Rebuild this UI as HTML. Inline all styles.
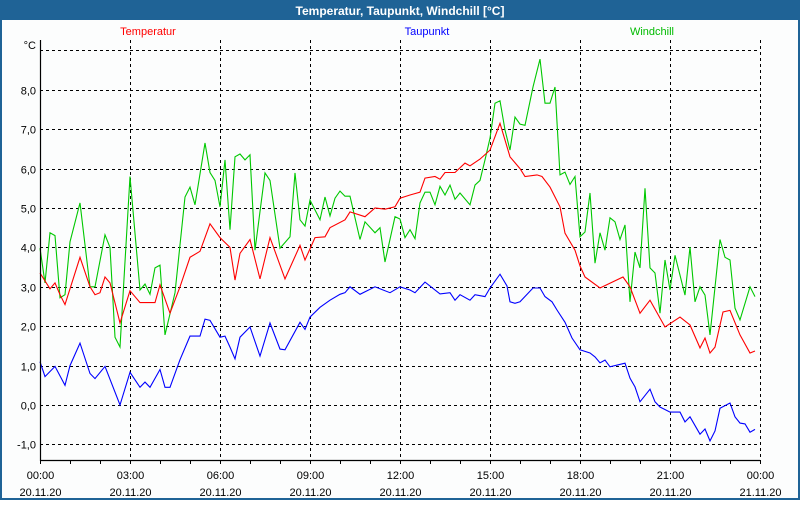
<!DOCTYPE html>
<html><head><meta charset="utf-8">
<style>
html,body{margin:0;padding:0;width:800px;height:500px;overflow:hidden;background:#fff;}
#frame{position:absolute;left:0;top:0;width:800px;height:500px;}
svg text{font-family:"Liberation Sans",sans-serif;}
</style></head>
<body>
<div id="frame">
<svg id="chart" width="800" height="500" viewBox="0 0 800 500">
  <rect x="0" y="0" width="800" height="500" fill="#1f6396"/>
  <rect x="2" y="20" width="796" height="478" fill="#fcfdfd"/>
  <text x="400" y="15" text-anchor="middle" font-size="12" font-weight="bold" fill="#fff">Temperatur, Taupunkt, Windchill [°C]</text>
  <text x="148" y="35" text-anchor="middle" font-size="11" fill="#ff0000">Temperatur</text>
  <text x="427" y="35" text-anchor="middle" font-size="11" fill="#0000ff">Taupunkt</text>
  <text x="652" y="35" text-anchor="middle" font-size="11" fill="#00bb00">Windchill</text>
  <text x="36" y="49" text-anchor="end" font-size="11" fill="#000">°C</text>
  <g id="grid"></g>
  <g id="series"></g>
  <g id="axes"></g>
</svg>
</div>
<script>
// ---- data ----
const yTicks = [-1, 0, 1, 2, 3, 4, 5, 6, 7, 8, 9];
const yTickLabels = ["-1,0", "0,0", "1,0", "2,0", "3,0", "4,0", "5,0", "6,0", "7,0", "8,0", ""];
const xTickHours = [0, 3, 6, 9, 12, 15, 18, 21, 24];
const xTickTimes = ["00:00", "03:00", "06:00", "09:00", "12:00", "15:00", "18:00", "21:00", "00:00"];
const xTickDates = ["20.11.20", "20.11.20", "20.11.20", "20.11.20", "20.11.20", "20.11.20", "20.11.20", "20.11.20", "21.11.20"];

const tempMinutes = [0,20,30,40,50,80,100,110,120,130,140,160,180,200,220,230,240,260,280,300,320,340,360,380,390,400,420,440,460,490,520,530,550,570,580,610,620,650,670,690,710,720,740,760,770,790,800,810,830,850,860,880,900,920,940,960,970,994,1004,1020,1040,1050,1070,1080,1090,1120,1166,1180,1200,1220,1250,1280,1300,1320,1330,1340,1350,1366,1380,1400,1420,1430];
const tempValues = [3.35,2.95,3.1,2.8,2.55,3.75,3.0,2.8,2.85,3.25,3.1,2.08,2.9,2.6,2.6,2.6,3.05,2.33,3.0,3.75,3.9,4.6,4.25,4.0,3.17,3.85,4.2,3.2,4.25,3.2,4.05,3.68,4.25,4.27,4.5,4.7,4.9,4.78,5.0,4.97,5.03,5.25,5.33,5.4,5.76,5.8,5.73,5.9,5.9,6.14,6.07,6.24,6.47,7.15,6.3,6.0,5.8,5.84,5.8,5.53,5.03,4.36,3.93,3.53,3.25,2.97,3.25,3.0,2.33,2.66,1.98,2.23,2.03,1.45,1.7,1.32,1.47,2.36,2.4,1.78,1.32,1.37];

const dewMinutes = [0,10,30,50,60,80,100,110,130,160,180,200,210,220,240,250,260,280,300,320,330,340,360,370,380,390,400,420,440,460,480,490,520,530,540,560,580,600,610,620,640,670,700,720,740,750,770,800,820,830,840,860,870,890,900,920,934,940,950,960,986,1000,1010,1024,1034,1050,1064,1080,1100,1110,1120,1130,1140,1170,1180,1190,1200,1220,1230,1240,1260,1280,1290,1300,1320,1330,1340,1350,1360,1380,1390,1400,1410,1420,1430];
const dewValues = [1.1,0.72,0.98,0.5,1.0,1.57,0.8,0.67,0.98,0.0,0.83,0.45,0.58,0.45,0.9,0.45,0.45,1.15,1.75,1.75,2.18,2.15,1.72,1.75,1.47,1.17,1.72,1.98,1.24,2.08,1.42,1.4,2.1,1.92,2.23,2.48,2.66,2.81,2.85,3.0,2.81,3.0,2.85,3.0,2.92,2.85,3.12,2.82,2.85,2.66,2.8,2.66,2.8,2.75,2.97,3.32,3.02,2.62,2.58,2.62,2.97,2.97,2.75,2.62,2.41,2.1,1.7,1.4,1.32,1.22,1.07,1.14,0.97,1.06,0.68,0.46,0.08,0.4,0.08,-0.05,-0.18,-0.18,-0.43,-0.3,-0.74,-0.61,-0.91,-0.66,-0.08,0.05,-0.3,-0.46,-0.48,-0.69,-0.62];

const chillMinutes = [0,10,20,30,40,50,60,80,100,110,130,140,150,160,180,200,210,220,230,240,250,270,290,300,310,330,340,350,360,370,380,390,400,410,420,430,450,460,480,500,510,520,530,540,560,570,580,590,600,610,620,640,650,670,680,690,710,720,730,740,750,760,770,780,790,800,810,820,830,840,860,870,880,890,900,910,920,930,940,950,960,970,986,1000,1010,1020,1030,1040,1050,1060,1070,1080,1090,1100,1110,1120,1130,1140,1150,1160,1170,1180,1190,1200,1210,1220,1230,1240,1250,1260,1270,1290,1300,1310,1320,1330,1340,1360,1370,1380,1390,1400,1420,1430];
const chillValues = [3.98,3.1,4.37,4.3,2.72,2.8,4.14,5.13,3.0,3.0,4.32,4.0,1.72,1.47,5.8,2.92,3.07,2.81,3.48,3.55,1.78,2.85,5.28,5.53,5.08,6.65,5.9,5.7,5.03,6.22,4.45,6.3,6.37,6.22,6.35,3.93,5.89,5.7,3.98,4.27,5.89,4.7,4.54,5.2,4.7,5.28,4.8,5.25,5.43,5.3,5.3,4.2,4.65,4.37,4.5,3.63,4.78,4.72,4.25,4.45,4.22,5.13,5.4,5.4,5.08,5.55,5.33,5.58,5.22,5.38,5.08,5.58,5.7,6.22,6.77,7.66,7.72,6.98,6.47,7.31,7.13,7.1,8.07,8.78,7.66,7.66,8.07,5.84,5.91,5.6,5.8,4.27,4.39,5.38,3.6,4.37,3.93,4.75,4.65,4.2,4.57,2.62,3.88,3.48,5.5,3.48,3.35,2.33,3.68,2.92,3.8,2.79,4.01,2.62,3.0,2.79,1.78,4.2,3.75,3.68,2.46,2.16,3.0,2.75];

// ---- scales ----
const X0 = 40, X1 = 760, Y_TOP = 40, Y_BOT = 460;
const xOfMin = m => X0 + (m / 1440) * (X1 - X0);
const yOfVal = v => 405 - v * 39.4;
const NS = "http://www.w3.org/2000/svg";
function mk(tag, attrs, parent) {
  const e = document.createElementNS(NS, tag);
  for (const k in attrs) e.setAttribute(k, attrs[k]);
  parent.appendChild(e);
  return e;
}
const grid = document.getElementById("grid");
const axes = document.getElementById("axes");
const series = document.getElementById("series");

yTicks.forEach((v, i) => {
  const y = Math.round(yOfVal(v)) + 0.5;
  const l = mk("line", {x1: X0, x2: X1, y1: y, y2: y, stroke: "#000", "stroke-dasharray": "3,3", "stroke-width": 1}, grid);
  
  
  if (yTickLabels[i]) {
    const t = mk("text", {x: 36, y: y + 4, "text-anchor": "end", "font-size": 11, fill: "#000"}, axes);
    t.textContent = yTickLabels[i];
    
    
  }
});
xTickHours.forEach((h, i) => {
  const x = Math.round(xOfMin(h * 60)) + 0.5;
  if (h > 0) {
    const l = mk("line", {x1: x, x2: x, y1: Y_TOP, y2: Y_BOT, stroke: "#000", "stroke-dasharray": "3,3", "stroke-width": 1}, grid);
    
    
  }
  const t1 = mk("text", {x: x, y: 479, "text-anchor": "middle", "font-size": 11, fill: "#000"}, axes);
  t1.textContent = xTickTimes[i];
  
  
  const t2 = mk("text", {x: x, y: 496, "text-anchor": "middle", "font-size": 11, fill: "#000"}, axes);
  t2.textContent = xTickDates[i];
  
  
});
for (let h = 0; h <= 24; h++) {
  const x = Math.round(xOfMin(h * 60)) + 0.5;
  const tk = mk("line", {x1: x, x2: x, y1: Y_BOT, y2: Y_BOT + 4, stroke: "#000"}, axes);
  
  
}
const ya = mk("line", {x1: X0 + 0.5, x2: X0 + 0.5, y1: Y_TOP, y2: Y_BOT + 1, stroke: "#000", "stroke-width": 1.2}, axes);


const xa = mk("line", {x1: X0, x2: X1, y1: Y_BOT + 0.5, y2: Y_BOT + 0.5, stroke: "#000", "stroke-width": 1.2}, axes);



function drawSeries(mins, vals, color, name) {
  const n = Math.min(mins.length, vals.length);
  const pts = [];
  for (let i = 0; i < n; i++) pts.push(xOfMin(mins[i]).toFixed(1) + "," + yOfVal(vals[i]).toFixed(1));
  const p = mk("polyline", {points: pts.join(" "), fill: "none", stroke: color, "stroke-width": 1.1, "stroke-linejoin": "miter"}, series);
  
  
}
drawSeries(chillMinutes, chillValues, "#00c800", "windchill-line");
drawSeries(tempMinutes, tempValues, "#ff0000", "temperatur-line");
drawSeries(dewMinutes, dewValues, "#0000ff", "taupunkt-line");
</script>
</body></html>
